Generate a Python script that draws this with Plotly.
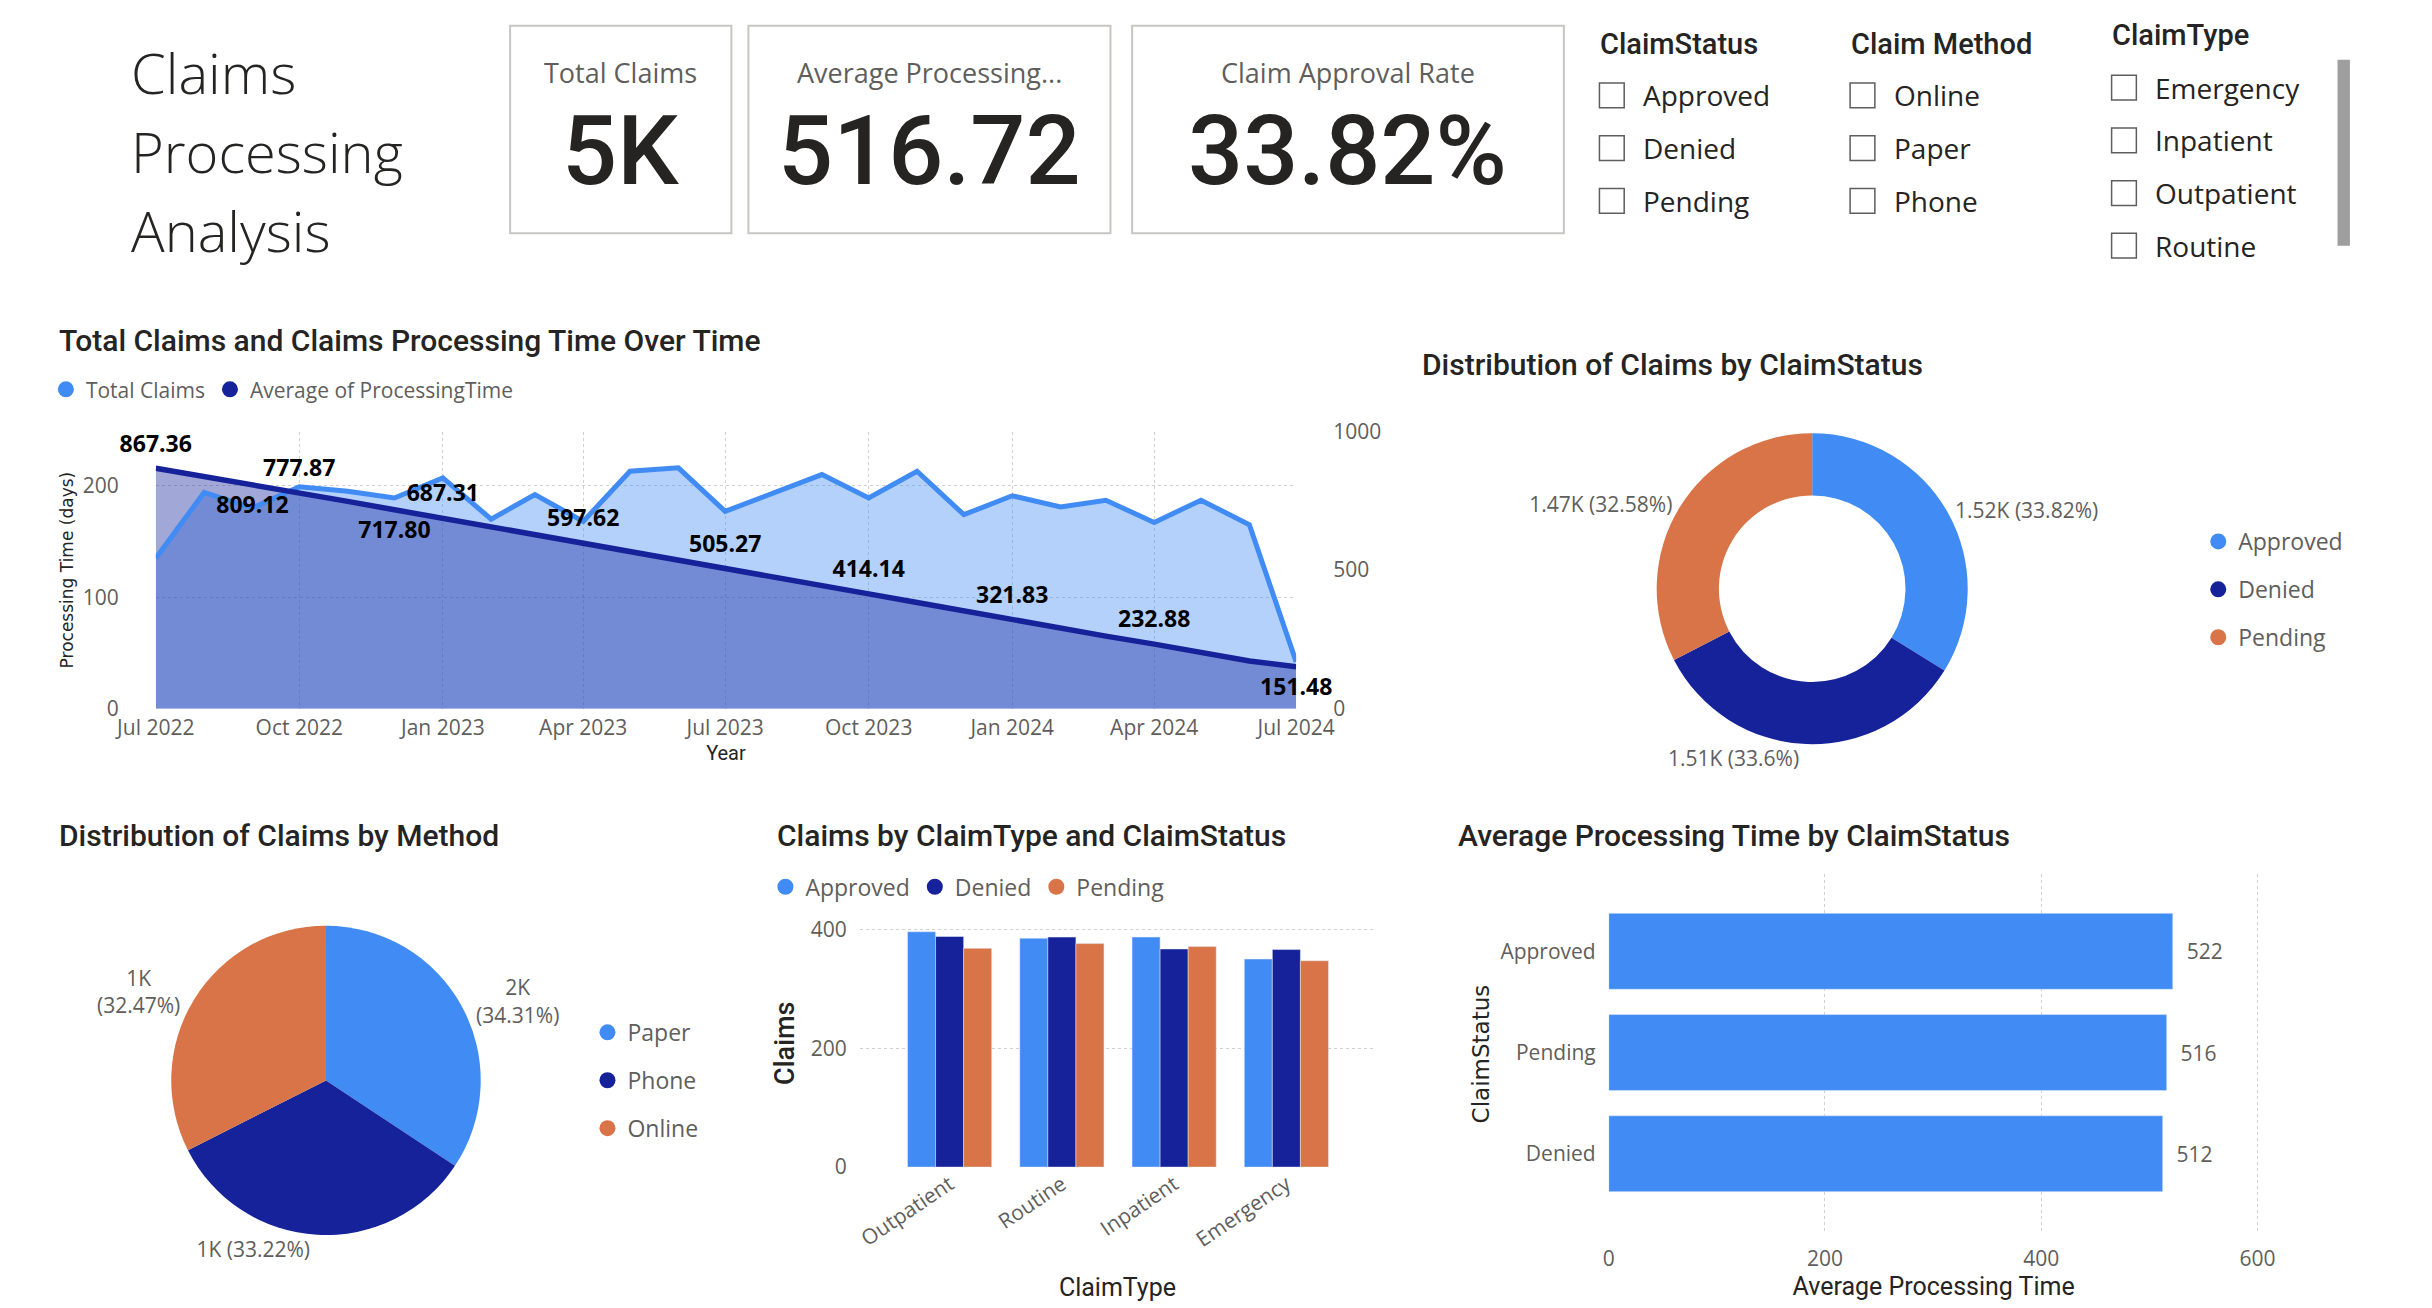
import plotly.graph_objects as go

# ---------------- data ----------------
months = ["2022-07-01", "2022-08-01", "2022-09-01", "2022-10-01", "2022-11-01", "2022-12-01",
          "2023-01-01", "2023-02-01", "2023-03-01", "2023-04-01", "2023-05-01", "2023-06-01",
          "2023-07-01", "2023-08-01", "2023-09-01", "2023-10-01", "2023-11-01", "2023-12-01",
          "2024-01-01", "2024-02-01", "2024-03-01", "2024-04-01", "2024-05-01", "2024-06-01",
          "2024-07-01"]
monthly_claims = [135, 194, 180, 199, 195, 189, 207, 170, 192, 168, 213, 216,
                  177, 194, 210, 189, 213, 174, 191, 181, 187, 167, 187, 165, 42]
monthly_avg_time = [867.36, 838.0, 809.12, 777.87, 748.0, 717.80, 687.31, 657.0, 627.0, 597.62,
                    567.0, 536.0, 505.27, 475.0, 444.0, 414.14, 383.0, 352.0, 321.83, 292.0,
                    262.0, 232.88, 202.0, 172.0, 151.48]
labelled_months = [0, 2, 3, 5, 6, 9, 12, 15, 18, 21, 24]
quarter_ticks = ["2022-07-01", "2022-10-01", "2023-01-01", "2023-04-01", "2023-07-01",
                 "2023-10-01", "2024-01-01", "2024-04-01", "2024-07-01"]

statuses = ["Approved", "Denied", "Pending"]
status_claims = [1522, 1512, 1466]

methods = ["Paper", "Phone", "Online"]
method_claims = [1544, 1495, 1461]

claim_types = ["Outpatient", "Routine", "Inpatient", "Emergency"]
type_status_claims = {
    "Approved": [397, 386, 388, 351],
    "Denied": [389, 388, 368, 367],
    "Pending": [369, 377, 372, 348],
}

hbar_status = ["Denied", "Pending", "Approved"]
hbar_avg_time = [512.3, 516.0, 521.6]

avg_processing_kpi = 516.72

slicer_status = ["Approved", "Denied", "Pending"]
slicer_method = ["Online", "Paper", "Phone"]
slicer_type = ["Emergency", "Inpatient", "Outpatient", "Routine"]

# ---------------- layout helpers ----------------
W, H = 2432, 1308
RW, RH = 1559, 840


def X(p):
    return ((p - 31) / 0.975) / RW


def Y(p):
    return 1 - ((p - 13.2) / 0.984) / RH


def F(p):
    return round(p * W / RW)


BLUE = "#418BF4"
NAVY = "#15229A"
ORANGE = "#D87447"
DARK = "#252423"
GREY = "#605E5C"
GRID = "#D2D0CE"
BODY = "Open Sans"
HEAD = "Roboto"
COLORS = {"Approved": BLUE, "Denied": NAVY, "Pending": ORANGE,
          "Paper": BLUE, "Phone": NAVY, "Online": ORANGE}

total = sum(status_claims)


def pct(v, tot):
    s = f"{100 * v / tot:.2f}".rstrip("0").rstrip(".")
    return s + "%"


fig = go.Figure()

# ---------------- line / area chart ----------------
fig.add_trace(go.Scatter(x=months, y=monthly_claims, mode="lines", line=dict(width=0, color=BLUE),
                         fill="tozeroy", fillcolor="rgba(65,139,244,0.40)", showlegend=False,
                         hoverinfo="skip", xaxis="x", yaxis="y"))
fig.add_trace(go.Scatter(x=months, y=monthly_avg_time, mode="lines", line=dict(width=0, color=NAVY),
                         fill="tozeroy", fillcolor="rgba(21,34,154,0.40)", showlegend=False,
                         hoverinfo="skip", xaxis="x", yaxis="y2"))
fig.add_trace(go.Scatter(x=months, y=monthly_claims, mode="lines", line=dict(width=5, color=BLUE),
                         showlegend=False, xaxis="x", yaxis="y5"))
text_pos = []
texts = []
for i, v in enumerate(monthly_avg_time):
    texts.append(f"{v:.2f}" if i in labelled_months else "")
    if i in (2, 5, len(monthly_avg_time) - 1):
        text_pos.append("bottom center")
    else:
        text_pos.append("top center")
fig.add_trace(go.Scatter(x=months, y=monthly_avg_time, mode="lines+markers+text",
                         line=dict(width=5.5, color=NAVY), marker=dict(size=16, opacity=0, color=NAVY),
                         text=texts, textposition=text_pos, cliponaxis=False,
                         textfont=dict(family=BODY, size=F(14.5), color="#000000", weight="bold"),
                         showlegend=False, xaxis="x", yaxis="y6"))

# legend-only entries (circle swatches like the original)
for name, col in [("Total Claims", BLUE), ("Average of ProcessingTime", NAVY)]:
    fig.add_trace(go.Scatter(x=[None], y=[None], mode="markers", name=name,
                             marker=dict(size=16, color=col), legend="legend", xaxis="x", yaxis="y"))

# ---------------- donut ----------------
donut_text = [f"{v / 1000:.2f}K ({pct(v, total)})" for v in status_claims]
fig.add_trace(go.Pie(labels=statuses, values=status_claims, hole=0.6, sort=False, direction="clockwise",
                     rotation=0, marker=dict(colors=[COLORS[s] for s in statuses]),
                     text=donut_text, textinfo="text", textposition="outside",
                     outsidetextfont=dict(family=BODY, size=F(13.5), color=GREY),
                     domain=dict(x=[X(1070), X(1271)], y=[Y(479), Y(278)]), showlegend=False))
for s in statuses:
    fig.add_trace(go.Scatter(x=[None], y=[None], mode="markers", name=s, legendgroup="d" + s,
                             marker=dict(size=16, color=COLORS[s]), legend="legend2", xaxis="x", yaxis="y"))

# ---------------- pie ----------------
mtotal = sum(method_claims)
seps = ["<br>", " ", "<br>"]
pie_text = [f"{v / 1000:.0f}K{seps[i]}({pct(v, mtotal)})" for i, v in enumerate(method_claims)]
fig.add_trace(go.Pie(labels=methods, values=method_claims, sort=False, direction="clockwise", rotation=0,
                     marker=dict(colors=[COLORS[m] for m in methods]),
                     text=pie_text, textinfo="text", textposition="outside",
                     outsidetextfont=dict(family=BODY, size=F(13.5), color=GREY),
                     domain=dict(x=[X(110), X(310)], y=[Y(796), Y(596)]), showlegend=False))
for m in methods:
    fig.add_trace(go.Scatter(x=[None], y=[None], mode="markers", name=m, legendgroup="p" + m,
                             marker=dict(size=16, color=COLORS[m]), legend="legend3", xaxis="x", yaxis="y"))

# ---------------- grouped bars ----------------
for s in statuses:
    fig.add_trace(go.Bar(x=claim_types, y=type_status_claims[s], name=s, marker_color=COLORS[s],
                         showlegend=False, xaxis="x2", yaxis="y3"))
for s in statuses:
    fig.add_trace(go.Scatter(x=[None], y=[None], mode="markers", name=s,
                             marker=dict(size=16, color=COLORS[s]), legend="legend4", xaxis="x", yaxis="y"))

# ---------------- horizontal bars ----------------
fig.add_trace(go.Bar(x=hbar_avg_time, y=hbar_status, orientation="h", marker_color=BLUE,
                     text=["\u00a0\u00a0" + f"{v:.0f}" for v in hbar_avg_time], textposition="outside",
                     textfont=dict(family=BODY, size=F(13.5), color=GREY), cliponaxis=False,
                     showlegend=False, xaxis="x3", yaxis="y4"))

# ---------------- axes ----------------
tick_font = dict(family=BODY, size=F(13.5), color=GREY)
grid = dict(showgrid=True, gridcolor=GRID, griddash="dot", gridwidth=1.2, zeroline=False, showline=False)

layout = dict(
    width=W, height=H, margin=dict(l=0, r=0, t=0, b=0),
    paper_bgcolor="white", plot_bgcolor="rgba(0,0,0,0)",
    barmode="group", bargap=0.25, bargroupgap=0,
    showlegend=True,
    xaxis=dict(domain=[X(100), X(837)], anchor="y", type="date", range=["2022-07-01", "2024-07-01"],
               tickvals=quarter_ticks, tickformat="%b %Y", tickfont=tick_font, ticklabelstandoff=4,
               title=dict(text="Year", font=dict(family=HEAD, size=F(13), color=DARK), standoff=2),
               **grid),
    yaxis=dict(domain=[Y(456), Y(277)], anchor="x", range=[0, 248.6], tickvals=[0, 100, 200],
               tickfont=tick_font, ticklabelstandoff=36,
               title=dict(text="Processing Time (days)", font=dict(family="DejaVu Sans", size=F(11), color=DARK),
                          standoff=4),
               **grid),
    yaxis2=dict(overlaying="y", side="right", anchor="x", range=[0, 1000], tickvals=[0, 500, 1000],
                tickfont=tick_font, ticklabelstandoff=36, showgrid=False, zeroline=False, showline=False),
    yaxis5=dict(overlaying="y", anchor="x", range=[0, 248.6], visible=False),
    yaxis6=dict(overlaying="y", anchor="x", range=[0, 1000], visible=False),
    xaxis2=dict(domain=[X(555), X(888)], anchor="y3", type="category", range=[-0.8, 3.79],
                tickangle=-34, tickfont=tick_font, showgrid=False, zeroline=False, showline=False,
                title=dict(text="ClaimType", font=dict(family=HEAD, size=F(16), color=DARK), standoff=26)),
    yaxis3=dict(domain=[Y(752), Y(592)], anchor="x2", range=[0, 418], tickvals=[0, 200, 400],
                tickfont=tick_font, ticklabelstandoff=12,
                title=dict(text="Claims", font=dict(family=HEAD, size=F(17), color=DARK, weight=500), standoff=8),
                **grid),
    xaxis3=dict(domain=[X(1039), X(1459)], anchor="y4", range=[0, 601], tickvals=[0, 200, 400, 600],
                tickfont=tick_font, ticklabelstandoff=10,
                title=dict(text="Average Processing Time", font=dict(family=HEAD, size=F(16), color=DARK),
                           standoff=2),
                **grid),
    yaxis4=dict(domain=[Y(795), Y(563)], anchor="x3", type="category", range=[-0.79, 2.76],
                tickfont=tick_font, ticklabelstandoff=12, showgrid=False, zeroline=False, showline=False,
                title=dict(text="ClaimStatus", font=dict(family="DejaVu Sans", size=F(15), color=DARK),
                           standoff=4)),
    legend=dict(x=X(29), y=Y(250), xanchor="left", yanchor="middle", orientation="h",
                font=dict(family=BODY, size=F(13.5), color=GREY), itemsizing="trace", bgcolor="rgba(0,0,0,0)"),
    legend2=dict(x=X(1420), y=Y(379), xanchor="left", yanchor="middle", orientation="v",
                 font=dict(family=BODY, size=F(14.5), color=GREY), tracegroupgap=15, itemsizing="trace",
                 bgcolor="rgba(0,0,0,0)"),
    legend3=dict(x=X(379), y=Y(696), xanchor="left", yanchor="middle", orientation="v",
                 font=dict(family=BODY, size=F(14.5), color=GREY), tracegroupgap=15, itemsizing="trace",
                 bgcolor="rgba(0,0,0,0)"),
    legend4=dict(x=X(494), y=Y(571), xanchor="left", yanchor="middle", orientation="h",
                 font=dict(family=BODY, size=F(14.5), color=GREY), itemsizing="trace",
                 bgcolor="rgba(0,0,0,0)"),
)
fig.update_layout(**layout)

# ---------------- text / shapes ----------------
ann = []
shapes = []


def text(x, y, s, size, color=DARK, family=BODY, xanchor="left", weight="normal"):
    ann.append(dict(x=X(x), y=Y(y), xref="paper", yref="paper", text=s, showarrow=False,
                    xanchor=xanchor, yanchor="middle", align="left",
                    font=dict(family=family, size=F(size), color=color, weight=weight)))


# page title
for yy, word in zip([45, 96, 147], ["Claims", "Processing", "Analysis"]):
    text(83, yy, word, 36, DARK, BODY, weight=300)

# KPI cards
approval_rate = 100 * status_claims[0] / total
cards = [
    (329, 472, "Total Claims", f"{int(total / 1000 + 0.5)}K"),
    (483, 717, "Average Processing...", f"{avg_processing_kpi:.2f}"),
    (731, 1010, "Claim Approval Rate", f"{approval_rate:.2f}%"),
]
for x0, x1, lab, val in cards:
    shapes.append(dict(type="rect", xref="paper", yref="paper", x0=X(x0), x1=X(x1), y0=Y(149), y1=Y(15),
                       line=dict(color="#C8C6C4", width=2), fillcolor="white", layer="below"))
    text((x0 + x1) / 2, 45, lab, 17, GREY, BODY, xanchor="center")
    text((x0 + x1) / 2, 96, val, 62, DARK, HEAD, xanchor="center", weight=500)


# slicers
def slicer(x, head_y, title, items, first_y):
    text(x, head_y, title, 18.5, DARK, HEAD, weight=500)
    for k, it in enumerate(items):
        yy = first_y + 34 * k
        shapes.append(dict(type="rect", xref="paper", yref="paper", x0=X(x + 1), x1=X(x + 17),
                           y0=Y(yy + 8), y1=Y(yy - 8), line=dict(color=GREY, width=1.5)))
        text(x + 28, yy, it, 18, DARK, BODY)


slicer(1032, 27, "ClaimStatus", slicer_status, 60)
slicer(1194, 27, "Claim Method", slicer_method, 60)
slicer(1363, 21, "ClaimType", slicer_type, 55)
shapes.append(dict(type="rect", xref="paper", yref="paper", x0=X(1510), x1=X(1518), y0=Y(157), y1=Y(37),
                   line=dict(width=0), fillcolor="#9E9E9E"))

# chart titles
for x, y, s in [(36, 218, "Total Claims and Claims Processing Time Over Time"),
                (917, 234, "Distribution of Claims by ClaimStatus"),
                (36, 538, "Distribution of Claims by Method"),
                (500, 538, "Claims by ClaimType and ClaimStatus"),
                (940, 538, "Average Processing Time by ClaimStatus")]:
    text(x, y, s, 19.4, DARK, HEAD, weight=500)

fig.update_layout(annotations=ann, shapes=shapes)

fig.write_html("out.html")
